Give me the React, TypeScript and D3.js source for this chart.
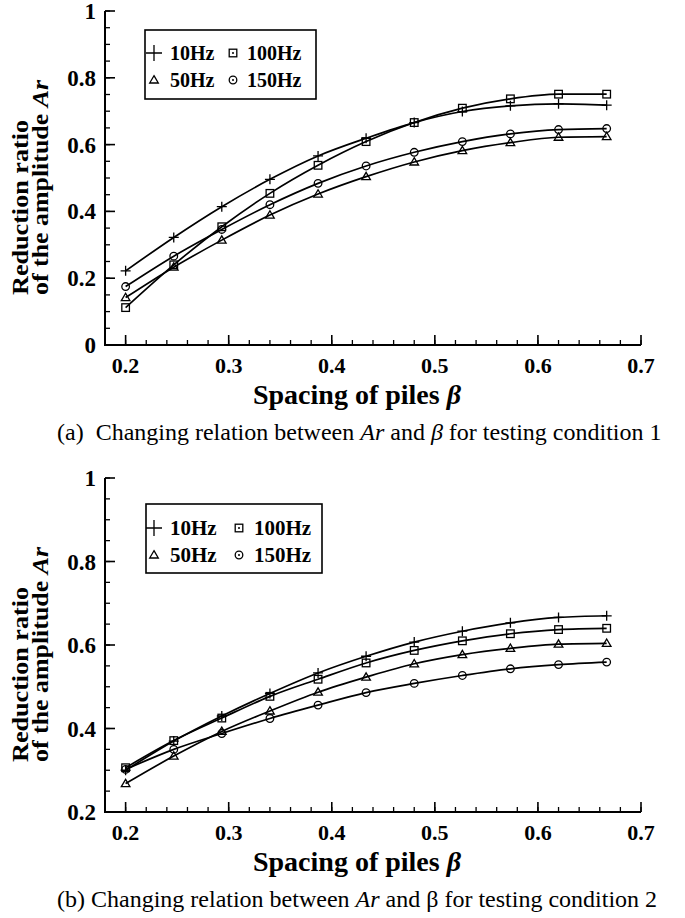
import React from "react";
import * as d3 from "d3";

const betaValues = [0.2, 0.2467, 0.2933, 0.34, 0.3867, 0.4333, 0.48, 0.5267, 0.5733, 0.62, 0.6667];
const seriesNames = ["10Hz", "50Hz", "100Hz", "150Hz"];
const seriesSymbols = ["plus", "triangle", "square", "circle"];

// Testing condition 1
const c1_10Hz = [0.222, 0.322, 0.414, 0.496, 0.566, 0.619, 0.666, 0.699, 0.716, 0.722, 0.718];
const c1_50Hz = [0.142, 0.233, 0.314, 0.389, 0.452, 0.504, 0.548, 0.582, 0.606, 0.622, 0.624];
const c1_100Hz = [0.112, 0.24, 0.354, 0.454, 0.538, 0.609, 0.666, 0.709, 0.737, 0.751, 0.751];
const c1_150Hz = [0.175, 0.266, 0.346, 0.42, 0.484, 0.536, 0.577, 0.609, 0.632, 0.645, 0.648];

// Testing condition 2
const c2_10Hz = [0.3, 0.37, 0.43, 0.484, 0.533, 0.573, 0.607, 0.633, 0.653, 0.666, 0.67];
const c2_50Hz = [0.268, 0.334, 0.393, 0.442, 0.487, 0.523, 0.555, 0.577, 0.592, 0.602, 0.604];
const c2_100Hz = [0.306, 0.371, 0.425, 0.477, 0.518, 0.557, 0.587, 0.61, 0.627, 0.637, 0.64];
const c2_150Hz = [0.302, 0.35, 0.388, 0.424, 0.456, 0.486, 0.508, 0.527, 0.543, 0.553, 0.559];

const xTicks = [0.2, 0.3, 0.4, 0.5, 0.6, 0.7];
const yTicks1 = [0, 0.2, 0.4, 0.6, 0.8, 1];
const yTicks2 = [0.2, 0.4, 0.6, 0.8, 1];

const FONT = "'Liberation Serif', 'Times New Roman', serif";

function Marker({ type, x, y, legend }: { type: string; x: number; y: number; legend?: boolean }) {
  const s = 3.8;
  const common = { fill: "none", stroke: "#000", strokeWidth: 1.3 };
  const dot = legend ? <circle cx={x} cy={y} r={1} fill="#000" /> : null;
  if (type === "plus") {
    const h = legend ? 8 : 5;
    return (
      <path d={`M${x - h},${y}H${x + h}M${x},${y - h}V${y + h}`} stroke="#000" strokeWidth={1.3} />
    );
  }
  if (type === "square") {
    return (
      <g>
        <rect x={x - s} y={y - s} width={2 * s} height={2 * s} {...common} />
        {dot}
      </g>
    );
  }
  if (type === "circle") {
    return (
      <g>
        <circle cx={x} cy={y} r={s} {...common} />
        {dot}
      </g>
    );
  }
  const t = 4.3;
  return <path d={`M${x},${y - t}L${x + t},${y + t * 0.7}L${x - t},${y + t * 0.7}Z`} {...common} />;
}

type PanelProps = {
  top: number;
  yDomain: [number, number];
  yTicks: number[];
  series: number[][];
  legend: { x0: number; y0: number; x1: number; y1: number; row1: number; row2: number; sym1: number; txt1: number; sym2: number; txt2: number; fs: number };
  caption: React.ReactNode;
};

function Panel({ top, yDomain, yTicks, series, legend, caption }: PanelProps) {
  const left = 105;
  const right = 641;
  const bottom = top + 334;
  const x = d3.scaleLinear().domain([0.18, 0.7]).range([left, right]);
  const y = d3.scaleLinear().domain(yDomain).range([bottom, top]);
  const line = d3
    .line<number>()
    .x((_, i) => x(betaValues[i]))
    .y((d) => y(d))
    .curve(d3.curveMonotoneX);

  const xMinor = d3.range(0.2, 0.7001, 0.02);
  const yMinor = d3.range(yDomain[0], yDomain[1] + 0.0001, 0.05);

  const legendItems = [
    { sym: "plus", name: seriesNames[0], sx: legend.sym1, tx: legend.txt1, ry: legend.row1 },
    { sym: "square", name: seriesNames[2], sx: legend.sym2, tx: legend.txt2, ry: legend.row1 },
    { sym: "triangle", name: seriesNames[1], sx: legend.sym1, tx: legend.txt1, ry: legend.row2 },
    { sym: "circle", name: seriesNames[3], sx: legend.sym2, tx: legend.txt2, ry: legend.row2 },
  ];

  return (
    <g fontFamily={FONT}>
      {series.map((vals, si) => (
        <path key={"l" + si} d={line(vals) || ""} fill="none" stroke="#000" strokeWidth={1.7} />
      ))}
      {series.map((vals, si) =>
        vals.map((v, i) => (
          <Marker key={`m${si}-${i}`} type={seriesSymbols[si]} x={x(betaValues[i])} y={y(v)} />
        ))
      )}
      <path d={`M${left},${top}V${bottom}H${right}`} fill="none" stroke="#000" strokeWidth={2} />
      {yMinor.map((t, i) => (
        <line key={"ym" + i} x1={left} x2={left + 5} y1={y(t)} y2={y(t)} stroke="#000" strokeWidth={1.3} />
      ))}
      {yTicks.map((t) => (
        <g key={"yt" + t}>
          <line x1={left} x2={left + 10} y1={y(t)} y2={y(t)} stroke="#000" strokeWidth={1.6} />
          <text x={96} y={y(t) + 8} textAnchor="end" fontSize={23} fontWeight="bold">
            {d3.format("~g")(t)}
          </text>
        </g>
      ))}
      {xMinor.map((t, i) => (
        <line key={"xm" + i} x1={x(t)} x2={x(t)} y1={bottom} y2={bottom - 5} stroke="#000" strokeWidth={1.3} />
      ))}
      {xTicks.map((t) => (
        <g key={"xt" + t}>
          <line x1={x(t)} x2={x(t)} y1={bottom} y2={bottom - 10} stroke="#000" strokeWidth={1.6} />
          <text x={x(t)} y={bottom + 28} textAnchor="middle" fontSize={22} fontWeight="bold">
            {t.toFixed(1)}
          </text>
        </g>
      ))}
      <text x={357} y={bottom + 59} textAnchor="middle" fontSize={28} fontWeight="bold">
        {"Spacing of piles "}
        <tspan fontStyle="italic">β</tspan>
      </text>
      <g transform={`translate(0,${top + 284}) rotate(-90) scale(1,0.85)`}>
        <text x={0} y={33} fontSize={26} fontWeight="bold" textLength={175} lengthAdjust="spacingAndGlyphs">Reduction ratio</text>
        <text x={0} y={56} fontSize={26} fontWeight="bold" textLength={215} lengthAdjust="spacingAndGlyphs">
          of the amplitude <tspan fontStyle="italic">Ar</tspan>
        </text>
      </g>
      <rect x={legend.x0} y={legend.y0} width={legend.x1 - legend.x0} height={legend.y1 - legend.y0} fill="#fff" stroke="#000" strokeWidth={1.6} />
      {legendItems.map((it) => (
        <g key={it.name}>
          <Marker type={it.sym} x={it.sx} y={it.ry} legend />
          <text x={it.tx} y={it.ry + 7} fontSize={legend.fs} fontWeight="bold">{it.name}</text>
        </g>
      ))}
      <text x={57} y={bottom + 95} fontSize={24} style={{ whiteSpace: "pre" }}>
        {caption}
      </text>
    </g>
  );
}

export default function App() {
  return (
    <svg width={685} height={918} style={{ position: "absolute", left: 0, top: 0, display: "block", background: "#fff" }}>
      <Panel
        top={11}
        yDomain={[0, 1]}
        yTicks={yTicks1}
        series={[c1_10Hz, c1_50Hz, c1_100Hz, c1_150Hz]}
        legend={{ x0: 145, y0: 30, x1: 316, y1: 99, row1: 53, row2: 80, sym1: 154, txt1: 170, sym2: 233, txt2: 247, fs: 20 }}
        caption={
          <>
            {"(a)  Changing relation between "}<tspan fontStyle="italic">Ar</tspan>{" and "}<tspan fontStyle="italic">β</tspan>{" for testing condition 1"}
          </>
        }
      />
      <Panel
        top={478}
        yDomain={[0.2, 1]}
        yTicks={yTicks2}
        series={[c2_10Hz, c2_50Hz, c2_100Hz, c2_150Hz]}
        legend={{ x0: 146, y0: 504, x1: 322, y1: 573, row1: 528, row2: 555, sym1: 154, txt1: 170, sym2: 239, txt2: 254, fs: 21 }}
        caption={
          <>
            {"(b) Changing relation between "}<tspan fontStyle="italic">Ar</tspan>{" and β for testing condition 2"}
          </>
        }
      />
    </svg>
  );
}
